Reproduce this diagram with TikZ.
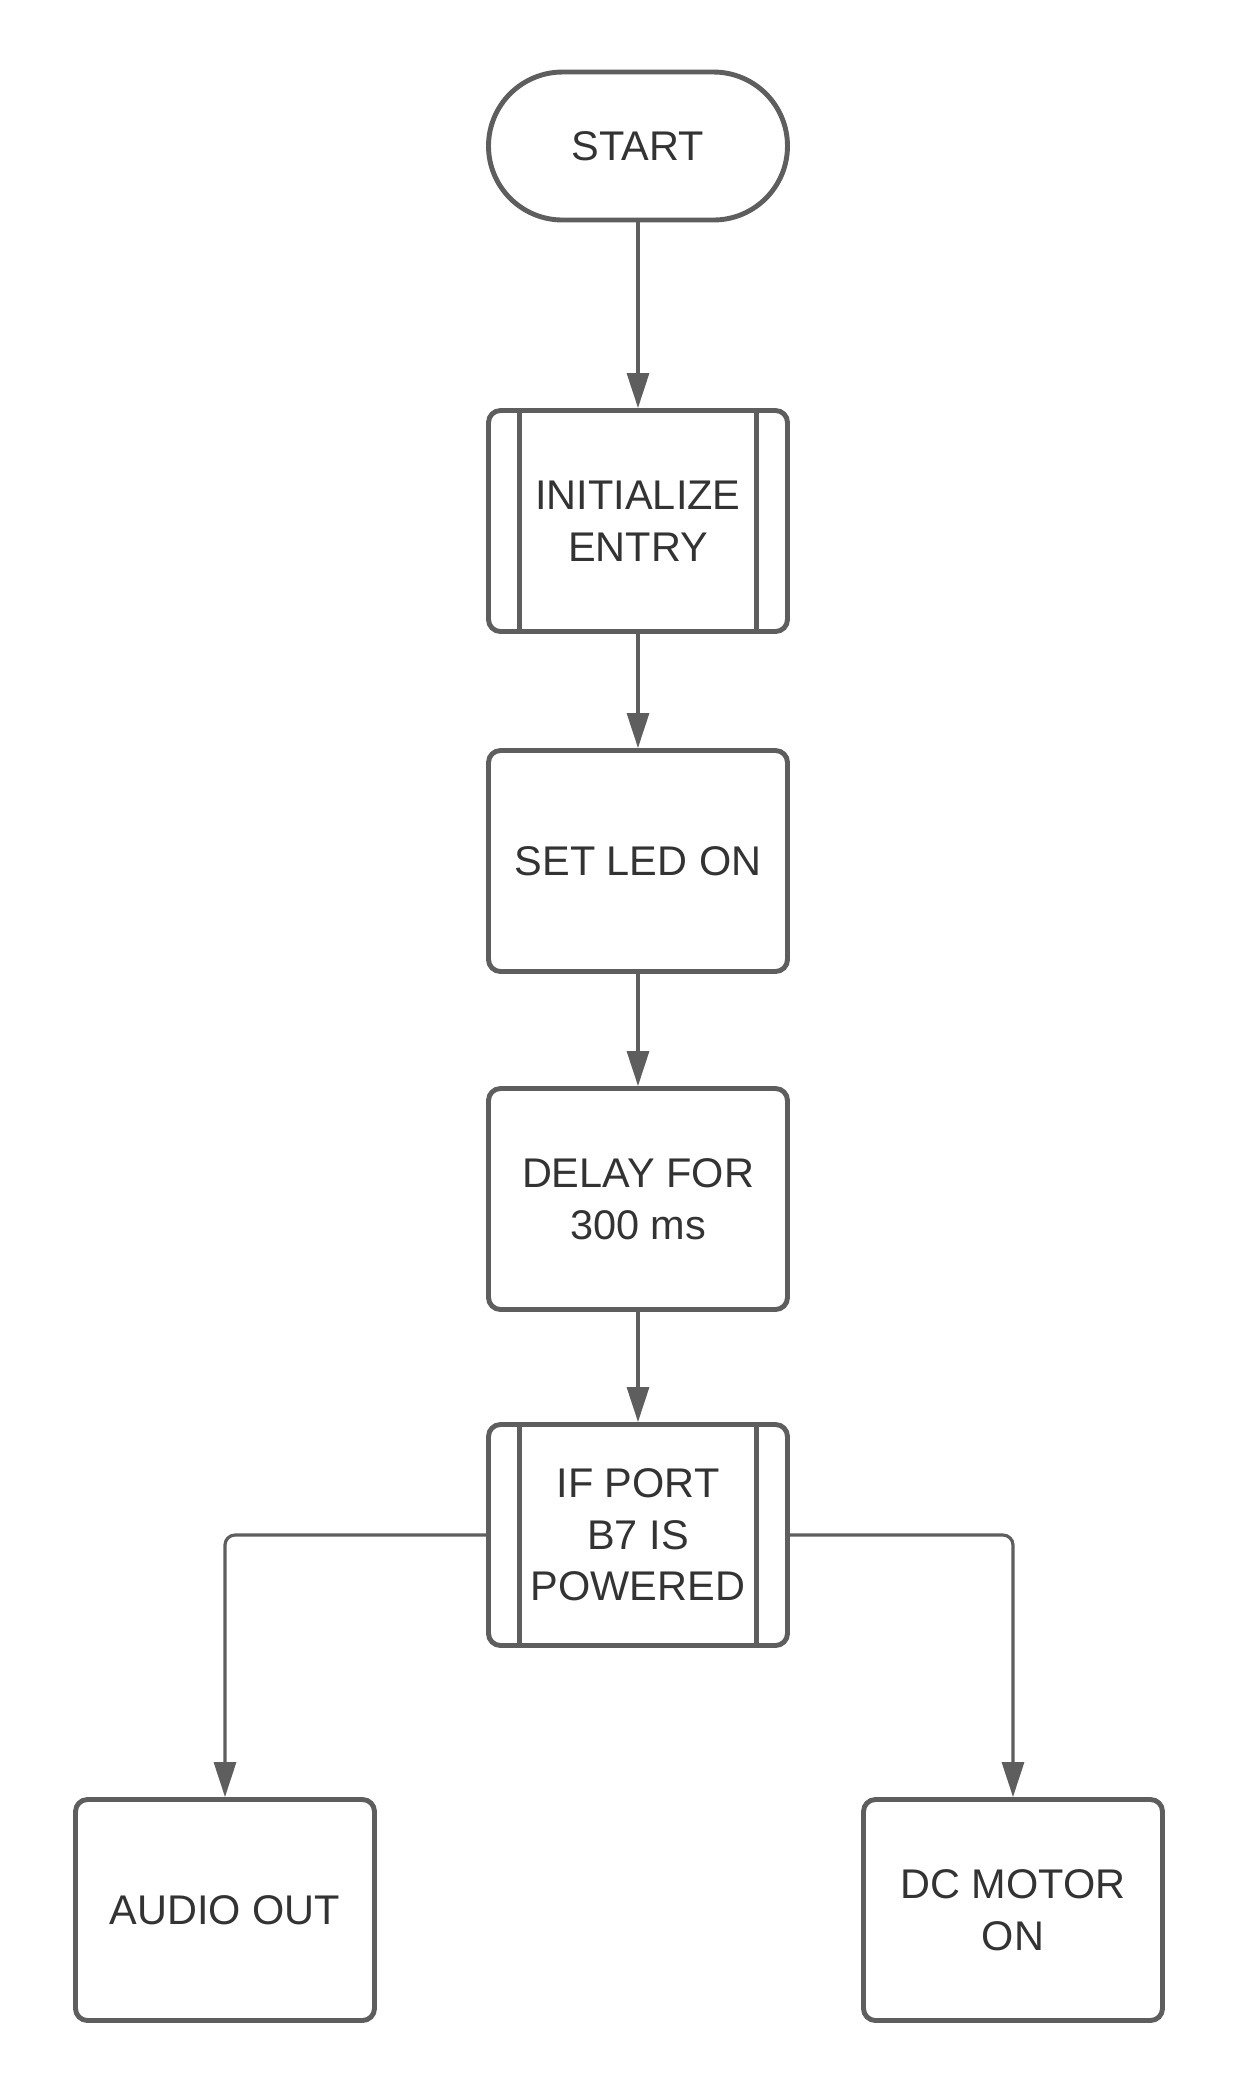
\documentclass[tikz,border=0pt]{standalone}
\usepackage{fontspec}
\setmainfont{Liberation Sans}
\usetikzlibrary{arrows.meta}

\definecolor{edgegray}{HTML}{5E5E5E}
\definecolor{textgray}{HTML}{333333}

\tikzset{box/.style={draw=edgegray,line width=1.4pt,rounded corners=0.12cm,minimum width=2.99cm,minimum height=2.21cm,align=center,text=textgray,font=\fontsize{11.8}{14.7}\selectfont,inner sep=0.05cm},
terminal/.style={box,rounded corners=0.74cm,minimum height=1.48cm},
subroutine/.style={box,path picture={\draw[edgegray,line width=1.4pt] ([xshift=0.31cm]path picture bounding box.north west) -- ([xshift=0.31cm]path picture bounding box.south west);
\draw[edgegray,line width=1.4pt] ([xshift=-0.31cm]path picture bounding box.north east) -- ([xshift=-0.31cm]path picture bounding box.south east);}},
flow/.style={draw=edgegray,line width=0.9pt,-{Triangle[width=0.22cm,length=0.35cm]},rounded corners=0.1cm}}

\begin{document}
\begin{tikzpicture}[semithick]
\useasboundingbox (0,0) rectangle (12.38,-21.00);

%% Nodes of the chart.
\node [terminal] (start) at (6.38,-1.46) {START};
\node [subroutine] (init) at (6.38,-5.21) {INITIALIZE\\ENTRY};
\node [box] (led) at (6.38,-8.61) {SET LED ON};
\node [box] (delay) at (6.38,-11.99) {DELAY FOR\\300 ms};
\node [subroutine] (port) at (6.38,-15.35) {IF PORT\\B7 IS\\POWERED};
\node [box] (audio) at (2.25,-19.10) {AUDIO OUT};
\node [box] (motor) at (10.13,-19.10) {DC MOTOR\\ON};

%% straight arrows
\draw [flow] (start) -- (init);
\draw [flow] (init) -- (led);
\draw [flow] (led) -- (delay);
\draw [flow] (delay) -- (port);

%% branches
\draw [flow] (port.west) -| (audio.north);
\draw [flow] (port.east) -| (motor.north);

\end{tikzpicture}
\end{document}
